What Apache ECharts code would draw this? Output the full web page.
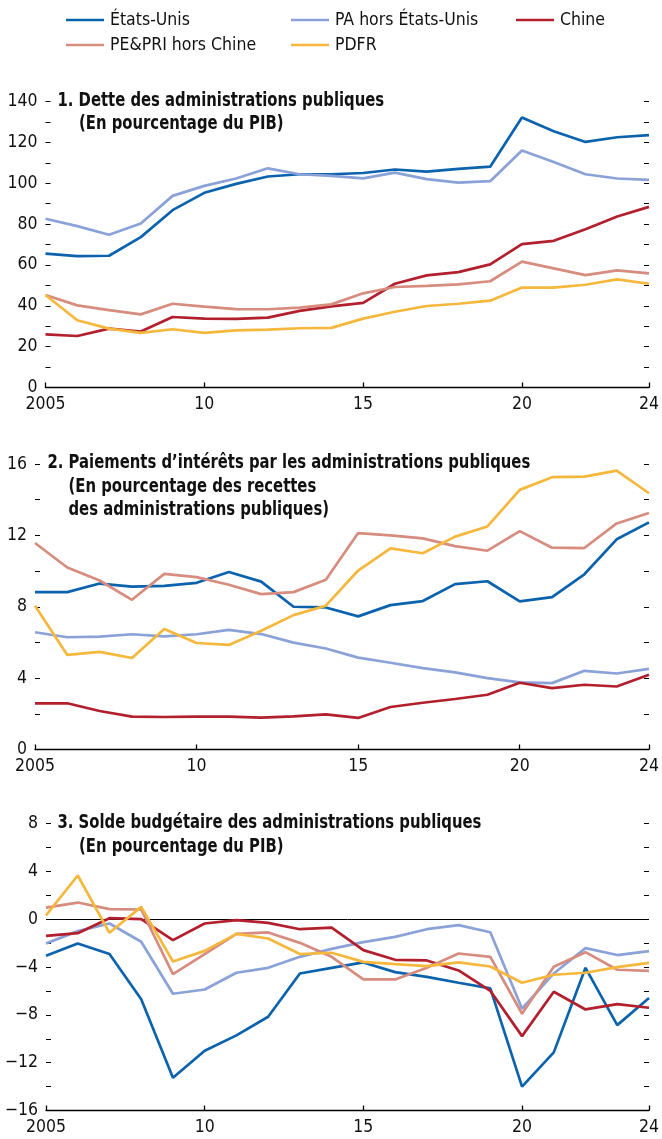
<!DOCTYPE html>
<html>
<head>
<meta charset="utf-8">
<script src="https://cdn.jsdelivr.net/npm/echarts@6/dist/echarts.min.js"></script>
<style>
  html, body { margin: 0; padding: 0; background: #fff; }
  #chart { width: 662px; height: 1139px; }
</style>
</head>
<body>
<div id="chart"></div>
<script>
const years = [2005, 2006, 2007, 2008, 2009, 2010, 2011, 2012, 2013, 2014,
  2015, 2016, 2017, 2018, 2019, 2020, 2021, 2022, 2023, 2024];

const seriesNames = ["États-Unis", "PA hors États-Unis", "Chine", "PE&PRI hors Chine", "PDFR"];
const seriesColors = ["#0b62ad", "#8ba2d8", "#b21f2d", "#d68c7e", "#f5b83d"];

// 1. Dette des administrations publiques (% du PIB)
const detteEU = [65.5, 64.3, 64.5, 73.6, 86.8, 95.3, 99.7, 103.3, 104.4, 104.4,
  105, 106.7, 105.7, 107, 108.1, 132.2, 125.4, 120.2, 122.5, 123.5];
const dettePA = [82.6, 79, 74.8, 80.3, 93.8, 98.7, 102.3, 107.3, 104.4, 103.6,
  102.4, 105.2, 102, 100.3, 101, 116, 110.4, 104.4, 102.3, 101.6];
const detteChine = [26, 25.2, 28.8, 27.4, 34.5, 33.7, 33.6, 34.2, 37.5, 39.7,
  41.4, 50.8, 54.9, 56.5, 60.3, 70.2, 71.8, 77.5, 83.7, 88.4];
const dettePE = [45.3, 40.2, 37.9, 35.8, 41, 39.6, 38.4, 38.3, 39.1, 40.7,
  46.1, 49.2, 49.7, 50.5, 52, 61.6, 58.3, 55, 57.3, 55.9];
const dettePDFR = [45.3, 32.9, 28.8, 26.7, 28.5, 26.7, 28, 28.3, 29, 29.2,
  33.7, 37.1, 39.9, 41, 42.5, 48.9, 48.9, 50.3, 52.9, 50.8];

// 2. Paiements d'intérêts (% des recettes)
const interetsEU = [8.82, 8.82, 9.3, 9.13, 9.17, 9.34, 9.95, 9.41, 8.0, 7.96,
  7.46, 8.09, 8.32, 9.27, 9.43, 8.3, 8.54, 9.82, 11.78, 12.73];
const interetsPA = [6.57, 6.29, 6.33, 6.46, 6.34, 6.46, 6.7, 6.47, 5.99, 5.66,
  5.15, 4.86, 4.56, 4.32, 4.0, 3.76, 3.72, 4.41, 4.26, 4.52];
const interetsChine = [2.59, 2.59, 2.16, 1.84, 1.82, 1.84, 1.84, 1.79, 1.86, 1.97,
  1.77, 2.38, 2.62, 2.83, 3.07, 3.74, 3.44, 3.63, 3.53, 4.19];
const interetsPE = [11.57, 10.2, 9.47, 8.39, 9.84, 9.66, 9.23, 8.71, 8.82, 9.51,
  12.13, 12.0, 11.83, 11.4, 11.14, 12.24, 11.31, 11.29, 12.67, 13.25];
const interetsPDFR = [8.06, 5.3, 5.47, 5.13, 6.75, 5.97, 5.86, 6.66, 7.53, 8.06,
  10.03, 11.27, 11.0, 11.93, 12.5, 14.55, 15.26, 15.29, 15.63, 14.36];

// 3. Solde budgétaire (% du PIB)
const soldeEU = [-3.06, -2.03, -2.92, -6.69, -13.26, -11.0, -9.72, -8.16, -4.54, -4.07,
  -3.62, -4.43, -4.82, -5.32, -5.79, -14.0, -11.14, -4.07, -8.86, -6.6];
const soldePA = [-2.03, -1.0, -0.36, -1.89, -6.24, -5.88, -4.48, -4.07, -3.15, -2.48,
  -1.92, -1.48, -0.84, -0.5, -1.09, -7.49, -4.54, -2.42, -3.0, -2.67];
const soldeChine = [-1.39, -1.17, 0.08, 0, -1.75, -0.36, -0.08, -0.31, -0.84, -0.7,
  -2.59, -3.4, -3.45, -4.29, -5.99, -9.78, -6.07, -7.55, -7.1, -7.41];
const soldePE = [0.97, 1.39, 0.84, 0.81, -4.6, -2.92, -1.23, -1.11, -1.98, -3.15,
  -5.04, -5.04, -4.07, -2.87, -3.15, -7.91, -3.98, -2.76, -4.23, -4.32];
const soldePDFR = [0.31, 3.65, -1.14, 1.03, -3.54, -2.65, -1.23, -1.62, -2.92, -2.81,
  -3.57, -3.76, -3.93, -3.62, -3.96, -5.32, -4.65, -4.48, -4.01, -3.65];

const titleLines = [
  ["1. Dette des administrations publiques", 57.5, 101],
  ["(En pourcentage du PIB)", 79, 124],
  ["2. Paiements d\u2019intérêts par les administrations publiques", 47.5, 463.5],
  ["(En pourcentage des recettes", 68.5, 487],
  ["des administrations publiques)", 68.5, 510.5],
  ["3. Solde budgétaire des administrations publiques", 57.5, 823.5],
  ["(En pourcentage du PIB)", 79, 847],
];

const FONT = "'DejaVu Sans Condensed', 'Liberation Sans Narrow', sans-serif";

const panels = [
  { data: [detteEU, dettePA, detteChine, dettePE, dettePDFR], min: 0, max: 140, step: 10, every: 20,
    grid: { left: 45.5, top: 101.5, width: 606, height: 286 } },
  { data: [interetsEU, interetsPA, interetsChine, interetsPE, interetsPDFR], min: 0, max: 16, step: 2, every: 4,
    grid: { left: 35, top: 464, width: 616.5, height: 285.5 } },
  { data: [soldeEU, soldePA, soldeChine, soldePE, soldePDFR], min: -16, max: 8, step: 2, every: 4,
    grid: { left: 46, top: 823.5, width: 605.5, height: 287 } },
];

const grids = [];
const xAxes = [];
const yAxes = [];
const series = [];

panels.forEach((p, i) => {
  grids.push(p.grid);
  xAxes.push({
    type: "value",
    gridIndex: i,
    min: 2005,
    max: 2024,
    interval: 5,
    splitLine: { show: false },
    axisLine: { show: true, onZero: false, lineStyle: { color: "#000", width: 1.3 } },
    axisTick: { show: true, inside: true, length: 5, lineStyle: { color: "#000", width: 1.3 } },
    axisLabel: {
      show: true,
      showMaxLabel: true,
      showMinLabel: true,
      hideOverlap: false,
      margin: 8,
      color: "#111",
      fontFamily: FONT,
      fontSize: 17.5,
      formatter: (v) => (v === 2005 ? "2005" : String(v).slice(2)),
    },
  });
  const tickStyle = { show: true, inside: true, length: 5, lineStyle: { color: "#000", width: 1 } };
  yAxes.push({
    type: "value",
    gridIndex: i,
    position: "left",
    min: p.min,
    max: p.max,
    interval: p.step,
    splitLine: { show: false },
    axisLine: { show: false },
    axisTick: tickStyle,
    axisLabel: {
      margin: 8,
      color: "#111",
      fontFamily: FONT,
      fontSize: 17.5,
      formatter: (v) => (v % p.every === 0 ? String(v).replace("-", "\u2212") : ""),
    },
  });
  yAxes.push({
    type: "value",
    gridIndex: i,
    position: "right",
    min: p.min,
    max: p.max,
    interval: p.step,
    splitLine: { show: false },
    axisLine: { show: false },
    axisTick: tickStyle,
    axisLabel: { show: false },
  });

  p.data.forEach((vals, k) => {
    const s = {
      name: seriesNames[k],
      type: "line",
      xAxisIndex: i,
      yAxisIndex: i * 2,
      symbol: "none",
      silent: true,
      color: seriesColors[k],
      lineStyle: { width: 2.7, color: seriesColors[k] },
      data: years.map((y, j) => [y, vals[j]]),
      z: 3 + k,
    };
    if (i === 2 && k === 0) {
      s.markLine = {
        silent: true,
        symbol: "none",
        label: { show: false },
        lineStyle: { color: "#000", width: 1, type: "solid" },
        data: [{ yAxis: 0 }],
        z: 1,
      };
    }
    series.push(s);
  });
});

const legendPos = [
  [66, 11], [291, 11], [516, 11],
  [66, 36], [291, 36],
];

const legends = seriesNames.map((name, k) => ({
  data: [name],
  left: legendPos[k][0],
  top: legendPos[k][1],
  padding: 0,
  icon: "rect",
  itemWidth: 38,
  itemHeight: 2.5,
  selectedMode: false,
  textStyle: { fontFamily: FONT, fontSize: 17.5, color: "#111", padding: [0, 0, 0, 1] },
}));

// panel titles: condensed bold text, squeezed horizontally
const titleTexts = titleLines.map(([text, x, cy]) => ({
  type: "text",
  x: x,
  y: cy,
  scaleX: 0.868,
  silent: true,
  style: {
    text: text,
    fontFamily: FONT,
    fontSize: 19,
    fontWeight: "bold",
    fill: "#111",
    align: "left",
    verticalAlign: "middle",
  },
}));

const chart = echarts.init(document.getElementById("chart"), null, { renderer: "canvas" });
chart.setOption({
  animation: false,
  backgroundColor: "#fff",
  legend: legends,
  grid: grids,
  xAxis: xAxes,
  yAxis: yAxes,
  graphic: titleTexts,
  series: series,
});
</script>
</body>
</html>
